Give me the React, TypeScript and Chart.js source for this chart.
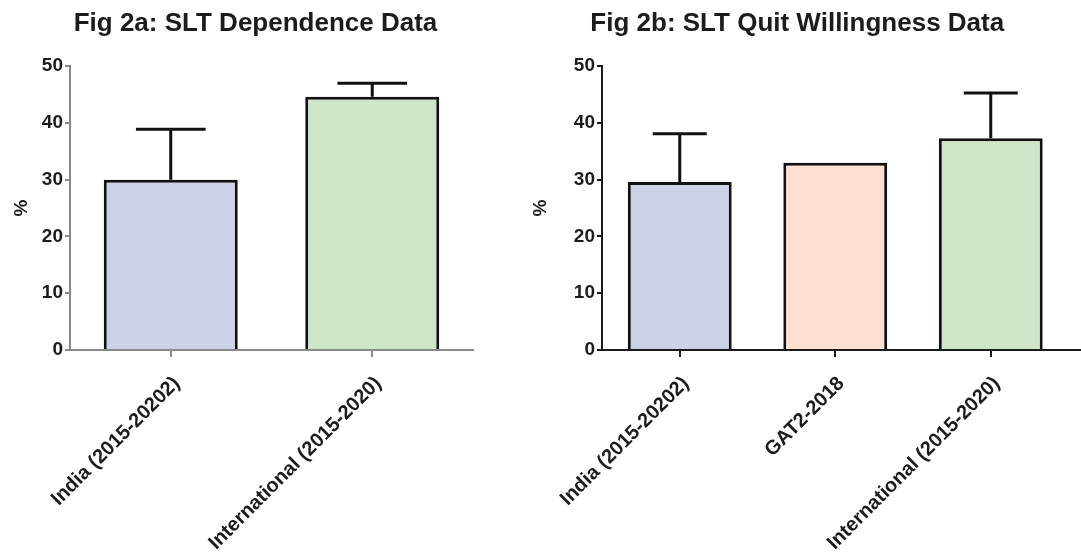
import React, { useEffect, useRef } from 'react';
import { Chart, registerables } from 'chart.js';

Chart.register(...registerables);

const FONT = '"Liberation Sans", Arial, Helvetica, sans-serif';

// ---- Data ----
const yTickMin = 0;
const yTickMax = 50;
const yTickStep = 10;

const dependenceTitle = 'Fig 2a: SLT Dependence Data';
const dependenceLabels = ['India (2015-20202)', 'International (2015-2020)'];
const dependenceValues = [30.0, 44.6];
const dependenceErrors = [8.9, 2.4];

const quitTitle = 'Fig 2b: SLT Quit Willingness Data';
const quitLabels = ['India (2015-20202)', 'GAT2-2018', 'International (2015-2020)'];
const quitValues = [29.6, 33.0, 37.3];
const quitErrors = [8.5, 0, 8.0];

const dependenceColors = ['#cdd1e5', '#cfe5c8'];
const quitColors = ['#cdd1e5', '#fde0d2', '#cfe5c8'];

const errorBarPlugin = {
  id: 'errorBars',
  afterDatasetsDraw(chart: any, _args: any, opts: any) {
    const errs: number[] = opts && opts.errors;
    if (!errs) return;
    const meta = chart.getDatasetMeta(0);
    const yScale = chart.scales.y;
    const values = chart.data.datasets[0].data as number[];
    const ctx = chart.ctx;
    ctx.save();
    ctx.strokeStyle = opts.color || '#111';
    ctx.lineWidth = opts.width || 3;
    ctx.lineCap = 'butt';
    meta.data.forEach((bar: any, i: number) => {
      const e = errs[i];
      if (!e) return;
      const v = values[i];
      const base = yScale.getPixelForValue(v);
      const top = yScale.getPixelForValue(v + e);
      const half = (bar.width * (opts.capRatio || 0.52)) / 2;
      ctx.beginPath();
      ctx.moveTo(bar.x, base);
      ctx.lineTo(bar.x, top);
      ctx.moveTo(bar.x - half, top);
      ctx.lineTo(bar.x + half, top);
      ctx.stroke();
    });
    ctx.restore();
  },
};

const axisExtendPlugin = {
  id: 'axisExtend',
  afterDraw(chart: any, _args: any, opts: any) {
    if (!opts || !opts.enabled) return;
    const { ctx, chartArea } = chart;
    ctx.save();
    ctx.strokeStyle = opts.color;
    ctx.lineWidth = 2;
    ctx.beginPath();
    ctx.moveTo(chartArea.right - 1, Math.round(chartArea.bottom));
    ctx.lineTo(chart.width, Math.round(chartArea.bottom));
    ctx.stroke();
    ctx.restore();
  },
};

interface PanelProps {
  title: string;
  labels: string[];
  values: number[];
  errors: number[];
  colors: string[];
  axisColor: string;
  left: number;
  width: number;
  padL: number;
  padR: number;
  yWidth: number;
  pctPad: number;
  barPct: number;
  extend: boolean;
}

function Panel(p: PanelProps) {
  const ref = useRef<HTMLCanvasElement | null>(null);
  useEffect(() => {
    if (!ref.current) return;
    const tickFont = { family: FONT, size: 19, weight: 'bold' as const };
    const xFont = { family: FONT, size: 20, weight: 'bold' as const };
    const textColor = '#1c1c1c';
    const chart = new Chart(ref.current, {
      type: 'bar',
      data: {
        labels: p.labels,
        datasets: [
          {
            data: p.values,
            backgroundColor: p.colors,
            borderColor: '#111111',
            borderWidth: 3,
            borderSkipped: 'start',
            categoryPercentage: 1,
            barPercentage: p.barPct,
          },
        ],
      },
      options: {
        animation: false,
        responsive: false,
        maintainAspectRatio: false,
        layout: { padding: { left: p.padL, right: p.padR, top: 0, bottom: 0 } },
        plugins: {
          legend: { display: false },
          tooltip: { enabled: false },
          title: {
            display: true,
            text: p.title,
            color: textColor,
            font: { family: FONT, size: 26, weight: 'bold' },
            padding: { top: 8, bottom: 27 },
          },
          errorBars: { errors: p.errors, color: '#111111', width: 3, capRatio: 0.52 },
          axisExtend: { enabled: p.extend, color: p.axisColor },
        } as any,
        scales: {
          x: {
            grid: {
              display: true,
              drawOnChartArea: false,
              offset: false,
              tickLength: 7,
              color: p.axisColor,
              lineWidth: 2,
            },
            border: { display: true, color: p.axisColor, width: 2 },
            ticks: {
              font: xFont,
              color: textColor,
              minRotation: 45,
              maxRotation: 45,
              autoSkip: false,
              padding: 15,
              labelOffset: 6,
            },
            afterFit: (s: any) => {
              s.height = 207;
            },
          },
          y: {
            min: yTickMin,
            max: yTickMax,
            ticks: { stepSize: yTickStep, font: tickFont, color: textColor, padding: 2 },
            grid: {
              display: true,
              drawOnChartArea: false,
              tickLength: 5,
              color: p.axisColor,
              lineWidth: 2,
            },
            border: { display: true, color: p.axisColor, width: 2 },
            title: {
              display: true,
              text: '%',
              color: textColor,
              font: tickFont,
              padding: { top: p.pctPad, bottom: 0 },
            },
            afterFit: (s: any) => {
              s.width = p.yWidth;
            },
          },
        },
      },
      plugins: [errorBarPlugin, axisExtendPlugin],
    } as any);
    return () => chart.destroy();
  }, []);
  return (
    <canvas
      ref={ref}
      width={p.width}
      height={557}
      style={{ position: 'absolute', left: p.left, top: 0, width: p.width, height: 557, display: 'block' }}
    />
  );
}

export default function App() {
  return (
    <div
      style={{
        position: 'absolute',
        left: 0,
        top: 0,
        width: 1081,
        height: 557,
        overflow: 'hidden',
        background: '#ffffff',
      }}
    >
      <Panel
        title={dependenceTitle}
        labels={dependenceLabels}
        values={dependenceValues}
        errors={dependenceErrors}
        colors={dependenceColors}
        axisColor="#8a8a8a"
        left={0}
        width={540}
        padL={38}
        padR={67}
        yWidth={32}
        pctPad={-27.4}
        barPct={0.665}
        extend={false}
      />
      <Panel
        title={quitTitle}
        labels={quitLabels}
        values={quitValues}
        errors={quitErrors}
        colors={quitColors}
        axisColor="#1a1a1a"
        left={526}
        width={555}
        padL={0}
        padR={12.5}
        yWidth={76}
        pctPad={3}
        barPct={0.668}
        extend={true}
      />
    </div>
  );
}
